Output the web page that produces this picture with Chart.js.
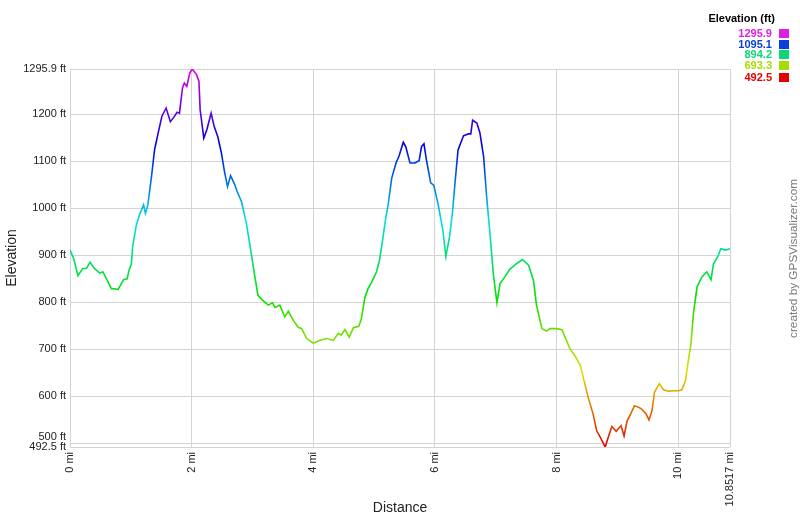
<!DOCTYPE html>
<html>
<head>
<meta charset="utf-8">
<script src="https://cdn.jsdelivr.net/npm/chart.js@4/dist/chart.umd.min.js"></script>
<style>
  body { margin: 0; background: #fff; }
  #wrap { position: relative; width: 800px; height: 517px; }
  #legend { position: absolute; left: 690px; top: 0; width: 100px; height: 90px; font-family: "Liberation Sans", Arial, sans-serif; font-weight: bold; }
  #legend .ttl { position: absolute; right: 15px; top: 12px; font-size: 11px; color: #000; white-space: nowrap; }
  #legend .val { position: absolute; right: 18px; font-size: 11px; line-height: 11px; }
  #legend .sq { position: absolute; right: 1px; width: 10px; height: 9px; }
  #credit { position: absolute; left: 786px; top: 338px; transform-origin: 0 0; transform: rotate(-90deg); font-family: "Liberation Sans", Arial, sans-serif; font-size: 11.8px; color: #777; white-space: nowrap; }
</style>
</head>
<body>
<div id="wrap">
  <canvas id="myChart" width="800" height="517"></canvas>
  <div id="legend"></div>
  <div id="credit">created by GPSVisualizer.com</div>
</div>
<script>
// track profile
const distances = [
  0, 0.06, 0.13, 0.21, 0.27, 0.33, 0.40, 0.49, 0.54, 0.60, 0.68, 0.73, 0.79, 0.88, 0.94, 0.97,
  1.01, 1.03, 1.09, 1.14, 1.21, 1.24, 1.28, 1.34, 1.39, 1.45, 1.51, 1.58, 1.65, 1.70, 1.76, 1.80,
  1.85, 1.88, 1.92, 1.97, 2.01, 2.08, 2.12, 2.14, 2.20, 2.25, 2.32, 2.37, 2.43, 2.49, 2.54, 2.59,
  2.64, 2.70, 2.75, 2.82, 2.90, 2.98, 3.04, 3.09, 3.17, 3.26, 3.33, 3.37, 3.45, 3.53, 3.59, 3.67,
  3.75, 3.81, 3.89, 4.00, 4.10, 4.22, 4.33, 4.41, 4.46, 4.52, 4.59, 4.66, 4.75, 4.79, 4.85, 4.90,
  4.96, 5.04, 5.09, 5.14, 5.19, 5.23, 5.29, 5.36, 5.41, 5.48, 5.52, 5.59, 5.67, 5.74, 5.78, 5.82,
  5.86, 5.93, 5.98, 6.05, 6.13, 6.18, 6.24, 6.29, 6.33, 6.38, 6.47, 6.55, 6.59, 6.62, 6.69, 6.74,
  6.80, 6.85, 6.91, 6.96, 7.02, 7.07, 7.15, 7.23, 7.34, 7.44, 7.54, 7.62, 7.67, 7.76, 7.84, 7.89,
  8.00, 8.09, 8.14, 8.22, 8.30, 8.39, 8.45, 8.52, 8.60, 8.66, 8.72, 8.80, 8.85, 8.91, 8.98, 9.06,
  9.11, 9.16, 9.22, 9.28, 9.35, 9.40, 9.47, 9.52, 9.57, 9.61, 9.69, 9.76, 9.84, 9.92, 10.01, 10.06,
  10.12, 10.15, 10.21, 10.25, 10.31, 10.39, 10.47, 10.54, 10.58, 10.65, 10.70, 10.78, 10.8517
];
const elevations = [
  911, 893, 857, 872, 872, 885, 872, 862, 865, 850, 829, 829, 827, 848, 850, 868,
  882, 918, 964, 985, 1007, 989, 1007, 1067, 1124, 1160, 1195, 1213, 1184, 1192, 1204, 1202,
  1256, 1266, 1259, 1288, 1295.9, 1284, 1270, 1209, 1149, 1167, 1202, 1174, 1152, 1117, 1078, 1046,
  1069, 1053, 1035, 1014, 968, 904, 854, 815, 804, 794, 799, 789, 794, 769, 781, 762,
  747, 744, 723, 713, 719, 723, 719, 734, 730, 742, 726, 746, 749, 765, 811, 829,
  843, 865, 890, 932, 978, 1007, 1064, 1096, 1111, 1140, 1131, 1096, 1096, 1101, 1131, 1137,
  1103, 1054, 1049, 1010, 954, 897, 939, 993, 1053, 1124, 1154, 1158, 1158, 1187, 1181, 1160,
  1110, 1025, 939, 861, 799, 840, 854, 870, 882, 891, 879, 847, 794, 744, 739, 744,
  744, 742, 726, 701, 687, 666, 634, 598, 563, 527, 513, 492.5, 513, 536, 526, 538,
  516, 548, 563, 580, 577, 573, 563, 550, 570, 609, 627, 614, 611, 612, 612, 614,
  634, 662, 712, 776, 833, 854, 865, 848, 882, 897, 914, 911, 914
];
const xTicks = [0, 2, 4, 6, 8, 10, 10.8517];
const yTicks = [492.5, 500, 600, 700, 800, 900, 1000, 1100, 1200, 1295.9];
const legendValues = ['1295.9', '1095.1', '894.2', '693.3', '492.5'];
const legendColors = ['#e01ee0', '#0a40dc', '#0ad877', '#a8dc00', '#e80000'];

const yMin = 492.5, yMax = 1295.9;
const fontFamily = '"Liberation Sans", Arial, sans-serif';

// legend box, top right
const rowTops = [28, 39, 49, 60, 72];
const legend = document.getElementById('legend');
legend.innerHTML = '<div class="ttl">Elevation (ft)</div>' + legendValues.map(function (v, i) {
  return '<div class="val" style="top:' + rowTops[i] + 'px;color:' + legendColors[i] + '">' + v + '</div>' +
    '<div class="sq" style="top:' + (rowTops[i] + 1) + 'px;background:' + legendColors[i] + '"></div>';
}).join('');

// colour the line by height, red at the bottom to magenta at the top
function lineGradient(context) {
  const chart = context.chart;
  const area = chart.chartArea;
  if (!area) return '#0a0';
  const g = chart.ctx.createLinearGradient(0, area.bottom, 0, area.top);
  for (let i = 0; i <= 10; i++) {
    g.addColorStop(i / 10, 'hsl(' + (i * 30) + ',100%,44%)');
  }
  return g;
}

const points = distances.map(function (d, i) { return { x: d, y: elevations[i] }; });

const config = {
  type: 'line',
  data: {
    datasets: [{
      data: points,
      borderColor: lineGradient,
      borderWidth: 1.6,
      pointRadius: 0,
      tension: 0,
      fill: false
    }]
  },
  options: {
    responsive: false,
    animation: false,
    layout: { padding: { left: 0, right: 70, top: 69, bottom: 0 } },
    plugins: { legend: { display: false }, tooltip: { enabled: false } },
    scales: {
      x: {
        type: 'linear',
        min: 0,
        max: 10.8517,
        afterBuildTicks: function (scale) { scale.ticks = xTicks.map(function (v) { return { value: v }; }); },
        afterFit: function (scale) { scale.height = 70; },
        grid: { color: '#d4d4d4', drawTicks: false },
        border: { display: false },
        ticks: {
          autoSkip: false, minRotation: 90, maxRotation: 90, padding: 5,
          color: '#222', font: { family: fontFamily, size: 11 },
          callback: function (v) { return v + ' mi'; }
        },
        title: { display: true, text: 'Distance', color: '#222', font: { family: fontFamily, size: 14 }, padding: { top: -7, bottom: 0 } }
      },
      y: {
        min: yMin,
        max: yMax,
        afterBuildTicks: function (scale) { scale.ticks = yTicks.map(function (v) { return { value: v }; }); },
        afterFit: function (scale) { scale.width = 70; },
        grid: { color: '#d4d4d4', drawTicks: false },
        border: { display: false },
        ticks: {
          autoSkip: false, padding: 4,
          color: '#222', font: { family: fontFamily, size: 11 },
          // the 500 label sits a little above its line, clear of 492.5
          callback: function (v) { return v === 500 ? ['500 ft', ''] : v + ' ft'; }
        },
        title: { display: true, text: 'Elevation', color: '#222', font: { family: fontFamily, size: 14 }, padding: { top: 4, bottom: 0 } }
      }
    }
  }
};

const myChart = new Chart(document.getElementById('myChart'), config);
</script>
</body>
</html>
